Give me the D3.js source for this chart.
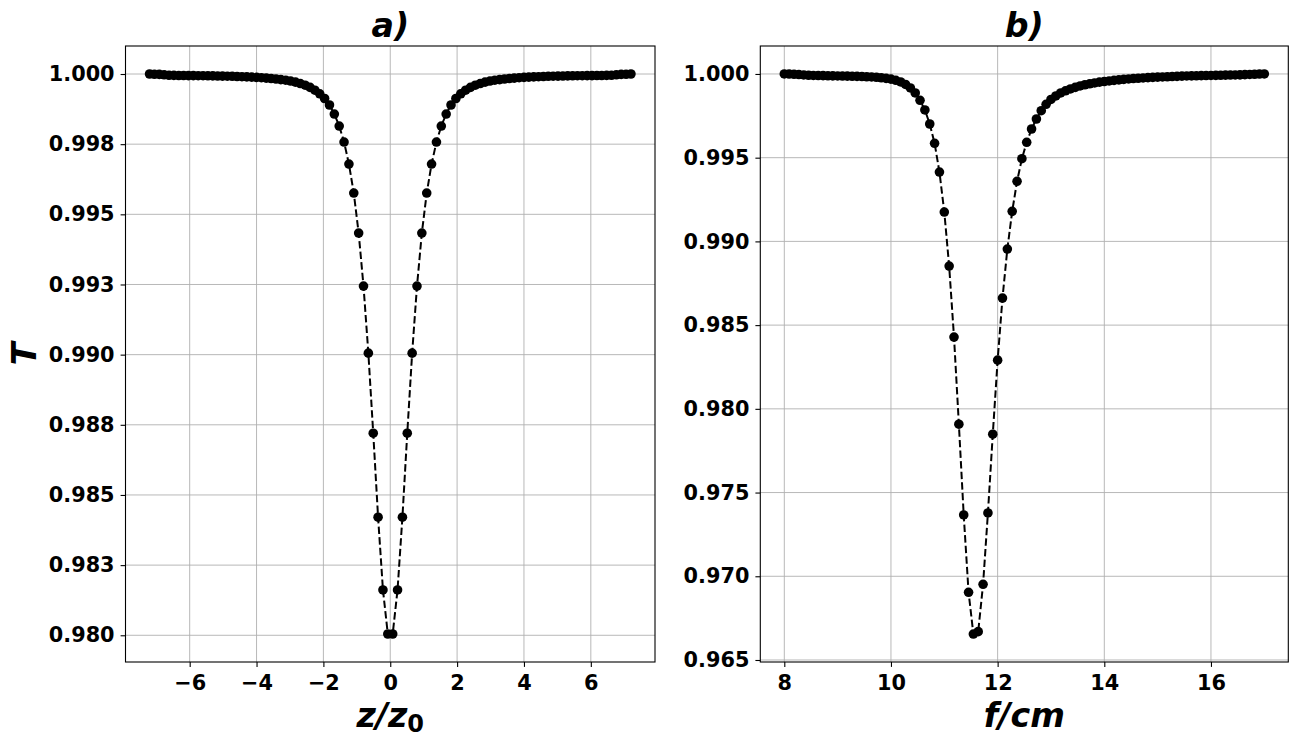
<!DOCTYPE html>
<html>
<head>
<meta charset='utf-8'>
<script src='https://d3js.org/d3.v7.min.js'></script>
<style>
body {margin:0; background:#fff;}
</style>
</head>
<body>
<div id='fig'></div>
<script>
// panel a) : transmission vs z/z0
var zVals = [
-7.200,-7.055,-6.909,-6.764,-6.618,-6.473,-6.327,-6.182,-6.036,-5.891,
-5.745,-5.600,-5.455,-5.309,-5.164,-5.018,-4.873,-4.727,-4.582,-4.436,
-4.291,-4.145,-4.000,-3.855,-3.709,-3.564,-3.418,-3.273,-3.127,-2.982,
-2.836,-2.691,-2.545,-2.400,-2.255,-2.109,-1.964,-1.818,-1.673,-1.527,
-1.382,-1.236,-1.091,-0.945,-0.800,-0.655,-0.509,-0.364,-0.218,-0.073,
0.073,0.218,0.364,0.509,0.655,0.800,0.945,1.091,1.236,1.382,
1.527,1.673,1.818,1.964,2.109,2.255,2.400,2.545,2.691,2.836,
2.982,3.127,3.273,3.418,3.564,3.709,3.855,4.000,4.145,4.291,
4.436,4.582,4.727,4.873,5.018,5.164,5.309,5.455,5.600,5.745,
5.891,6.036,6.182,6.327,6.473,6.618,6.764,6.909,7.055,7.200];
var tzVals = [
1.00000,0.99999,0.999986,0.999971,0.999954,0.99995,0.999947,0.999947,0.999943,0.999943,
0.999939,0.999939,0.999936,0.999932,0.999929,0.999925,0.999922,0.999918,0.999911,0.999904,
0.999897,0.999889,0.999879,0.999868,0.999854,0.99984,0.999822,0.9998,0.999779,0.99975,
0.999711,0.999661,0.999601,0.999522,0.999422,0.999294,0.999127,0.998895,0.998574,0.998146,
0.997576,0.996791,0.995758,0.994332,0.992442,0.990053,0.987201,0.984207,0.981615,0.980046,
0.980046,0.981615,0.984207,0.987201,0.990053,0.992442,0.994332,0.995758,0.996791,0.997576,
0.998146,0.998574,0.998895,0.999127,0.999294,0.999422,0.999522,0.999601,0.999661,0.999711,
0.99975,0.999779,0.9998,0.999822,0.99984,0.999854,0.999868,0.999879,0.999889,0.999897,
0.999904,0.999911,0.999918,0.999922,0.999925,0.999929,0.999932,0.999936,0.999939,0.999939,
0.999943,0.999943,0.999947,0.999947,0.99995,0.999954,0.999971,0.999986,0.99999,1.00000];

// panel b) : transmission vs lens focal length f (cm)
var fVals = [
8.000,8.091,8.182,8.273,8.364,8.455,8.545,8.636,8.727,8.818,8.909,
9.000,9.091,9.182,9.273,9.364,9.455,9.545,9.636,9.727,9.818,9.909,
10.000,10.091,10.182,10.273,10.364,10.455,10.545,10.636,10.727,10.818,10.909,
11.000,11.091,11.182,11.273,11.364,11.455,11.545,11.636,11.727,11.818,11.909,
12.000,12.091,12.182,12.273,12.364,12.455,12.545,12.636,12.727,12.818,12.909,
13.000,13.091,13.182,13.273,13.364,13.455,13.545,13.636,13.727,13.818,13.909,
14.000,14.091,14.182,14.273,14.364,14.455,14.545,14.636,14.727,14.818,14.909,
15.000,15.091,15.182,15.273,15.364,15.455,15.545,15.636,15.727,15.818,15.909,
16.000,16.091,16.182,16.273,16.364,16.455,16.545,16.636,16.727,16.818,16.909,
17.000];
var tfVals = [
1.00000,0.999994,0.999982,0.999964,0.99994,0.999922,0.99991,0.999904,0.999898,0.999892,
0.999886,0.99988,0.999874,0.999869,0.999863,0.999857,0.999845,0.999833,0.999821,0.999803,
0.999773,0.999737,0.999689,0.999623,0.999522,0.999372,0.999163,0.998865,0.998428,0.997849,
0.997012,0.995858,0.994143,0.991753,0.988526,0.984283,0.979083,0.973663,0.969043,0.966551,
0.966694,0.969521,0.973782,0.978486,0.982908,0.986613,0.989542,0.991795,0.993588,0.994938,
0.995918,0.996713,0.997311,0.997807,0.998189,0.998476,0.998685,0.998865,0.998996,0.999104,
0.999199,0.999283,0.999355,0.999414,0.999462,0.99951,0.999546,0.999582,0.999618,0.999647,
0.999677,0.999701,0.999725,0.999743,0.999761,0.999779,0.999797,0.999809,0.999821,0.999833,
0.999845,0.999857,0.999869,0.99988,0.999886,0.999892,0.999898,0.999904,0.99991,0.999916,
0.999922,0.999928,0.999934,0.99994,0.999946,0.999958,0.99997,0.999982,0.999994,1.00000];

// ticks
var zTicks = [-6,-4,-2,0,2,4,6];
var zTickLabels = ['\u22126','\u22124','\u22122','0','2','4','6'];
var tzTicks = [0.98,0.9825,0.985,0.9875,0.99,0.9925,0.995,0.9975,1.0];
var tzTickLabels = ['0.980','0.983','0.985','0.988','0.990','0.993','0.995','0.998','1.000'];
var fTicks = [8,10,12,14,16];
var fTickLabels = ['8','10','12','14','16'];
var tfTicks = [0.965,0.97,0.975,0.98,0.985,0.99,0.995,1.0];
var tfTickLabels = ['0.965','0.970','0.975','0.980','0.985','0.990','0.995','1.000'];

var W = 1298, H = 743;
var FONT = "'DejaVu Sans', 'Liberation Sans', sans-serif";

var svg = d3.select('#fig')
.append('svg')
.attr('width', W)
.attr('height', H)
.style('display', 'block')
.style('background', '#fff');

function panel(o){
  var x = d3.scaleLinear().domain(o.xDom).range([o.left, o.right]);
  var y = d3.scaleLinear().domain(o.yDom).range([o.bottom, o.top]);
  var g = svg.append('g');

  // grid
  g.selectAll('.vg').data(o.xTicks).enter().append('line')
  .attr('x1', function(d){return x(d);}).attr('x2', function(d){return x(d);})
  .attr('y1', o.top).attr('y2', o.bottom)
  .style('stroke', '#b0b0b0').style('stroke-width', 0.9);
  g.selectAll('.hg').data(o.yTicks).enter().append('line')
  .attr('y1', function(d){return y(d);}).attr('y2', function(d){return y(d);})
  .attr('x1', o.left).attr('x2', o.right)
  .style('stroke', '#b0b0b0').style('stroke-width', 0.9);

  // axes
  var xa = g.append('g')
  .attr('transform', 'translate(0,' + o.bottom + ')')
  .call(d3.axisBottom(x).tickValues(o.xTicks)
    .tickFormat(function(d, i){return o.xLabels[i];})
    .tickSize(4.9).tickSizeOuter(0).tickPadding(8));
  var ya = g.append('g')
  .attr('transform', 'translate(' + o.left + ',0)')
  .call(d3.axisLeft(y).tickValues(o.yTicks)
    .tickFormat(function(d, i){return o.yLabels[i];})
    .tickSize(4.9).tickSizeOuter(0).tickPadding(6));
  [xa, ya].forEach(function(a){
    a.select('.domain').remove();
    a.attr('font-family', FONT).attr('font-size', 20.8).attr('font-weight', 'bold');
    a.selectAll('line').style('stroke', '#000').style('stroke-width', 1.1);
    a.selectAll('text').style('fill', '#000');
  });

  // data
  var pts = o.xs.map(function(d, i){return [d, o.ys[i]];});
  var line = d3.line()
  .x(function(d){return x(d[0]);})
  .y(function(d){return y(d[1]);});
  g.append('path')
  .datum(pts)
  .attr('d', line)
  .style('fill', 'none')
  .style('stroke', '#000')
  .style('stroke-width', 2)
  .style('stroke-dasharray', '7.4,3.2');
  g.selectAll('circle').data(pts).enter().append('circle')
  .attr('cx', function(d){return x(d[0]);})
  .attr('cy', function(d){return y(d[1]);})
  .attr('r', 4.8)
  .style('fill', '#000');

  // frame
  g.append('rect')
  .attr('x', o.left).attr('y', o.top)
  .attr('width', o.right - o.left).attr('height', o.bottom - o.top)
  .style('fill', 'none').style('stroke', '#000').style('stroke-width', 1.1);

  // title
  g.append('text')
  .attr('x', (o.left + o.right) / 2).attr('y', 37)
  .attr('text-anchor', 'middle')
  .attr('font-family', FONT).attr('font-size', 33.3)
  .attr('font-weight', 'bold').attr('font-style', 'italic')
  .text(o.title);

  // x label
  var xl = g.append('text')
  .attr('x', (o.left + o.right) / 2).attr('y', 727)
  .attr('text-anchor', 'middle')
  .attr('font-family', FONT).attr('font-size', 33.3)
  .attr('font-weight', 'bold').attr('font-style', 'italic');
  xl.append('tspan').text(o.xlabel);
  if (o.xsub) {
    xl.append('tspan').attr('dy', 5).attr('font-size', 24)
    .attr('font-style', 'normal').text(o.xsub);
  }
  return g;
}

panel({left: 125.5, right: 655, top: 46, bottom: 662,
  xDom: [-7.92, 7.92], yDom: [0.979048, 1.000998],
  xs: zVals, ys: tzVals,
  xTicks: zTicks, xLabels: zTickLabels, yTicks: tzTicks, yLabels: tzTickLabels,
  title: 'a)', xlabel: 'z/z', xsub: '0'});

panel({left: 760.3, right: 1288.3, top: 46, bottom: 662,
  xDom: [7.55, 17.45], yDom: [0.96488, 1.00167],
  xs: fVals, ys: tfVals,
  xTicks: fTicks, xLabels: fTickLabels, yTicks: tfTicks, yLabels: tfTickLabels,
  title: 'b)', xlabel: 'f/cm'});

// shared y label
svg.append('text')
.attr('transform', 'translate(36,354) rotate(-90)')
.attr('text-anchor', 'middle')
.attr('font-family', FONT).attr('font-size', 33.3)
.attr('font-weight', 'bold').attr('font-style', 'italic')
.text('T');
</script>
</body>
</html>
